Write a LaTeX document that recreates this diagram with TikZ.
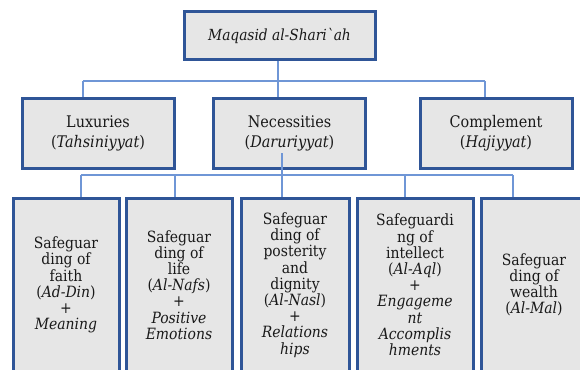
\documentclass[tikz,border=0pt]{standalone}
\usepackage{fontspec}
\setmainfont{DejaVu Serif Condensed}
\definecolor{boxblue}{HTML}{2F5597}
\definecolor{boxgray}{HTML}{E6E6E6}
\definecolor{linkblue}{HTML}{6F96D6}
\begin{document}
\begin{tikzpicture}[x=1pt,y=-1pt,
  box/.style={draw=boxblue, line width=3pt, fill=boxgray, align=center, inner sep=0pt, text=black!90},
  lvltwo/.style={box, minimum width=152pt, minimum height=70pt, font=\fontsize{16}{20}\selectfont},
  lvlthree/.style={box, minimum height=174pt, font=\fontsize{15.5}{16.2}\selectfont},
  conn/.style={draw=linkblue, line width=1.5pt}]
\useasboundingbox (0,0) rectangle (580,369);
\clip (0,0) rectangle (580,369);
\node[box, minimum width=191pt, minimum height=47pt, font=\fontsize{15.3}{16}\selectfont\itshape] (top) at (279.5,35.5) {Maqasid al-Shari\textasciigrave ah};
\node[lvltwo] (lux) at (98,133) {Luxuries\\(\textit{Tahsiniyyat})};
\node[lvltwo] (nec) at (289.5,133) {Necessities\\(\textit{Daruriyyat})};
\node[lvltwo] (comp) at (496,133) {Complement\\(\textit{Hajiyyat})};
\node[lvlthree, minimum width=106pt] (b1) at (66,285) {Safeguar\\ding of\\faith\\(\textit{Ad-Din})\\+\\\textit{Meaning}};
\node[lvlthree, minimum width=106pt] (b2) at (179,285) {Safeguar\\ding of\\life\\(\textit{Al-Nafs})\\+\\\textit{Positive}\\\textit{Emotions}};
\node[lvlthree, minimum width=108pt] (b3) at (295,285) {Safeguar\\ding of\\posterity\\and\\dignity\\(\textit{Al-Nasl})\\+\\\textit{Relations}\\\textit{hips}};
\node[lvlthree, minimum width=116pt] (b4) at (415,285) {Safeguardi\\ng of\\intellect\\(\textit{Al-Aql})\\+\\\textit{Engageme}\\\textit{nt}\\\textit{Accomplis}\\\textit{hments}};
\node[lvlthree, minimum width=106pt] (b5) at (534,285) {Safeguar\\ding of\\wealth\\(\textit{Al-Mal})};
% connectors level 1-2
\coordinate (j1) at (278,81);
\coordinate (hL) at (83,81);
\coordinate (hR) at (485,81);
\draw[conn] (j1 |- top.south) -- (j1);
\draw[conn] (hL) -- (hR);
\draw[conn] (hL) -- (hL |- lux.north);
\draw[conn] (j1) -- (j1 |- nec.north);
\draw[conn] (hR) -- (hR |- comp.north);
% connectors level 2-3
\coordinate (n0) at (282,153);
\coordinate (k3) at (282,175);
\coordinate (k1) at (81,175);
\coordinate (k2) at (175,175);
\coordinate (k4) at (405,175);
\coordinate (k5) at (513,175);
\draw[conn] (n0) -- (k3);
\draw[conn] (k1) -- (k5);
\draw[conn] (k1) -- (k1 |- b1.north);
\draw[conn] (k2) -- (k2 |- b2.north);
\draw[conn] (k3) -- (k3 |- b3.north);
\draw[conn] (k4) -- (k4 |- b4.north);
\draw[conn] (k5) -- (k5 |- b5.north);
\end{tikzpicture}
\end{document}
